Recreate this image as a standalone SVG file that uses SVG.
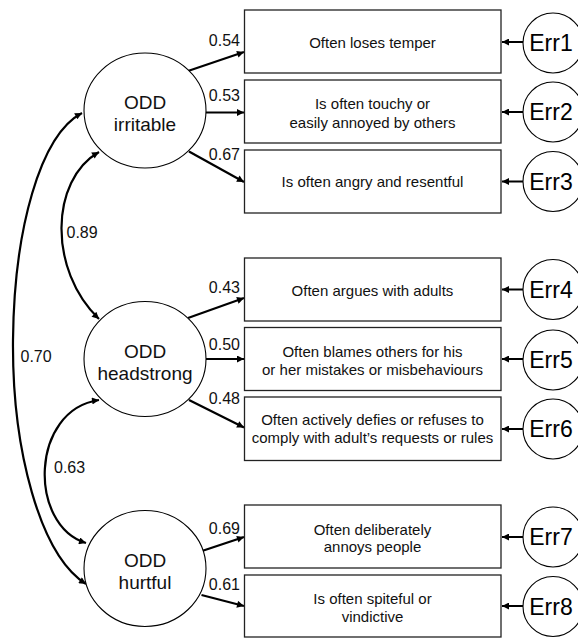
<svg xmlns="http://www.w3.org/2000/svg" width="578" height="638" viewBox="0 0 578 638">
<defs>
<marker id="ah" viewBox="0 0 10 10" refX="10" refY="5" markerWidth="9" markerHeight="7" markerUnits="userSpaceOnUse" orient="auto"><path d="M0,0 L10,5 L0,10 z" fill="#000"/></marker>
</defs>
<style>
.box{fill:#fff;stroke:#222;stroke-width:1.3}
.lat{fill:#fff;stroke:#000;stroke-width:1.1}
.err{fill:#fff;stroke:#000;stroke-width:1.1}
.bt{font-family:"Liberation Sans",Arial,sans-serif;font-size:15px;text-anchor:middle;fill:#111}
.lt{font-family:"Liberation Sans",Arial,sans-serif;font-size:19px;text-anchor:middle;fill:#111}
.et{font-family:"Liberation Sans",Arial,sans-serif;font-size:23px;text-anchor:middle;fill:#000}
.nt{font-family:"Liberation Sans",Arial,sans-serif;font-size:16px;fill:#111}
.ar{fill:none;stroke:#000;stroke-width:2.2;marker-end:url(#ah)}
.ea{fill:none;stroke:#000;stroke-width:2;marker-end:url(#ah)}
.cv{fill:none;stroke:#000;stroke-width:2.2;marker-start:url(#ahs);marker-end:url(#ah)}
</style>
<defs>
<marker id="ahs" viewBox="0 0 10 10" refX="0" refY="5" markerWidth="9" markerHeight="7" markerUnits="userSpaceOnUse" orient="auto"><path d="M10,0 L0,5 L10,10 z" fill="#000"/></marker>
</defs>

<g id="connectors">
<path class="ar" d="M188,71 L244,52"/>
<path class="ar" d="M206,112.5 L244,112.5"/>
<path class="ar" d="M189,151.5 L244,182"/>
<path class="ar" d="M188,318 L244,298"/>
<path class="ar" d="M206,359 L244,359"/>
<path class="ar" d="M189,400 L244,427.5"/>
<path class="ar" d="M202,551 L244,537"/>
<path class="ar" d="M201.5,595 L244,606"/>
<path class="ea" d="M523,42 L502,42"/>
<path class="ea" d="M523,112 L502,112"/>
<path class="ea" d="M523,181.5 L502,181.5"/>
<path class="ea" d="M523,289.5 L502,289.5"/>
<path class="ea" d="M523,359 L502,359"/>
<path class="ea" d="M523,429 L502,429"/>
<path class="ea" d="M523,537 L502,537"/>
<path class="ea" d="M523,606 L502,606"/>
<path class="cv" d="M99,152 C50,180 48,270 99,319"/>
<path class="cv" d="M99,400 C30,410 28,525 86,543"/>
<path class="cv" d="M82,113 C40,135 14,230 13,340 C12,450 40,555 86,584"/>
<text class="nt" x="240" y="45.5" text-anchor="end">0.54</text>
<text class="nt" x="240" y="100.5" text-anchor="end">0.53</text>
<text class="nt" x="240" y="160" text-anchor="end">0.67</text>
<text class="nt" x="240" y="292.5" text-anchor="end">0.43</text>
<text class="nt" x="240" y="350" text-anchor="end">0.50</text>
<text class="nt" x="240" y="404" text-anchor="end">0.48</text>
<text class="nt" x="240" y="534" text-anchor="end">0.69</text>
<text class="nt" x="240" y="590" text-anchor="end">0.61</text>
<text class="nt" x="66.5" y="238">0.89</text>
<text class="nt" x="20.5" y="361.5">0.70</text>
<text class="nt" x="54" y="472.5">0.63</text>
</g>

<g id="latent-irritable"><ellipse class="lat" cx="145" cy="110.5" rx="61" ry="57.5"/><text class="lt" x="145" y="109">ODD</text><text class="lt" x="145" y="131">irritable</text></g>
<g id="latent-headstrong"><ellipse class="lat" cx="145" cy="359" rx="61" ry="57.5"/><text class="lt" x="145" y="357.5">ODD</text><text class="lt" x="145" y="380">headstrong</text></g>
<g id="latent-hurtful"><ellipse class="lat" cx="145" cy="568.5" rx="61" ry="58"/><text class="lt" x="145" y="567">ODD</text><text class="lt" x="145" y="589">hurtful</text></g>

<g id="item1"><rect class="box" x="244.5" y="10" width="256.5" height="63"/><text class="bt" x="372.5" y="48">Often loses temper</text></g>
<g id="item2"><rect class="box" x="244.5" y="80" width="256.5" height="63"/><text class="bt" x="372.5" y="109">Is often touchy or</text><text class="bt" x="372.5" y="127.5">easily annoyed by others</text></g>
<g id="item3"><rect class="box" x="244.5" y="150" width="256.5" height="63"/><text class="bt" x="372.5" y="187">Is often angry and resentful</text></g>
<g id="item4"><rect class="box" x="244.5" y="258" width="256.5" height="63"/><text class="bt" x="372.5" y="295.5">Often argues with adults</text></g>
<g id="item5"><rect class="box" x="244.5" y="327.5" width="256.5" height="63"/><text class="bt" x="372.5" y="356.5">Often blames others for his</text><text class="bt" x="372.5" y="374.5">or her mistakes or misbehaviours</text></g>
<g id="item6"><rect class="box" x="244.5" y="397" width="256.5" height="63.5"/><text class="bt" x="372.5" y="424.5">Often actively defies or refuses to</text><text class="bt" x="372.5" y="442.5">comply with adult’s requests or rules</text></g>
<g id="item7"><rect class="box" x="244.5" y="505" width="256.5" height="63"/><text class="bt" x="372.5" y="535">Often deliberately</text><text class="bt" x="372.5" y="552">annoys people</text></g>
<g id="item8"><rect class="box" x="244.5" y="575" width="256.5" height="62"/><text class="bt" x="372.5" y="603.5">Is often spiteful or</text><text class="bt" x="372.5" y="621.5">vindictive</text></g>

<g id="err1"><circle class="err" cx="553" cy="43" r="30"/><text class="et" x="551" y="51">Err1</text></g>
<g id="err2"><circle class="err" cx="553" cy="112" r="30"/><text class="et" x="551" y="120">Err2</text></g>
<g id="err3"><circle class="err" cx="553" cy="181.5" r="30"/><text class="et" x="551" y="189.5">Err3</text></g>
<g id="err4"><circle class="err" cx="553" cy="289.5" r="30"/><text class="et" x="551" y="297.5">Err4</text></g>
<g id="err5"><circle class="err" cx="553" cy="360" r="30"/><text class="et" x="551" y="368">Err5</text></g>
<g id="err6"><circle class="err" cx="553" cy="429" r="30"/><text class="et" x="551" y="437">Err6</text></g>
<g id="err7"><circle class="err" cx="553" cy="537" r="30"/><text class="et" x="551" y="545">Err7</text></g>
<g id="err8"><circle class="err" cx="553" cy="606.5" r="30"/><text class="et" x="551" y="614.5">Err8</text></g>
</svg>
